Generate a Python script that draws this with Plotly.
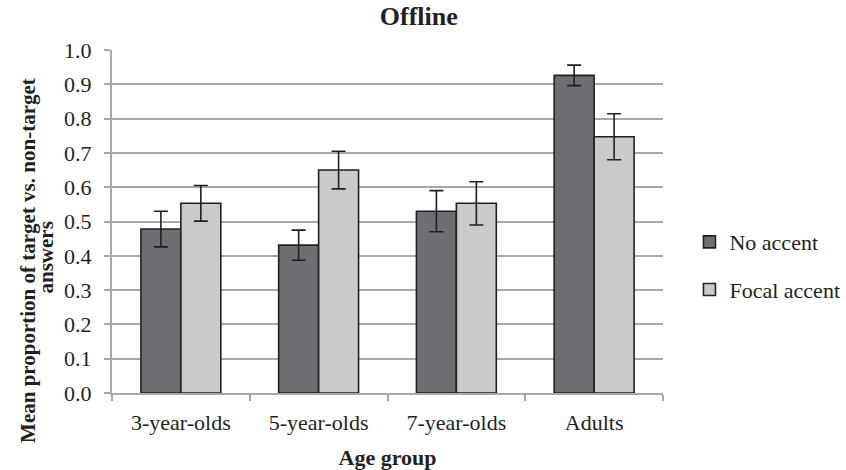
import plotly.graph_objects as go

# Age groups and mean proportions with error margins
age_groups = ["3-year-olds", "5-year-olds", "7-year-olds", "Adults"]
no_accent = [0.478, 0.431, 0.530, 0.926]
no_accent_err = [0.052, 0.044, 0.060, 0.030]
focal_accent = [0.553, 0.650, 0.553, 0.747]
focal_accent_err = [0.052, 0.055, 0.063, 0.067]
y_ticks = [0.0, 0.1, 0.2, 0.3, 0.4, 0.5, 0.6, 0.7, 0.8, 0.9, 1.0]
y_title_lines = ["Mean proportion of target vs. non-target", "answers"]

serif = "Liberation Serif, Times New Roman, serif"
grid_col = "#a8a8a8"
edge_col = "#231f20"

fig = go.Figure()
for name, vals, errs, col, grp in [
    ("No accent", no_accent, no_accent_err, "#6d6e71", "a"),
    ("Focal accent", focal_accent, focal_accent_err, "#c9cacc", "b"),
]:
    fig.add_trace(go.Bar(
        name=name, x=age_groups, y=vals, legendgroup=grp,
        marker=dict(color=col, line=dict(color=edge_col, width=1.6)),
        error_y=dict(type="data", array=errs, visible=True,
                     color=edge_col, thickness=1.6, width=7),
    ))

# Rotated y-axis title, one annotation per line
for line, xpix, ycen in zip(y_title_lines, [28, 46], [0.385, 0.395]):
    fig.add_annotation(
        text=f"<b>{line}</b>", textangle=-90,
        xref="paper", yref="paper", x=(xpix - 112) / 551, y=ycen,
        xanchor="center", yanchor="middle", showarrow=False,
        font=dict(family=serif, size=21, color="#231f20"),
    )

fig.update_layout(
    width=846, height=470,
    margin=dict(l=112, r=183, t=50, b=77, autoexpand=False),
    paper_bgcolor="white", plot_bgcolor="white",
    barmode="group", bargap=0.42, bargroupgap=0,
    font=dict(family=serif, size=22, color="#231f20"),
    title=dict(text="<b>Offline</b>", x=0.495, xanchor="center",
               y=0.985, yanchor="top", font=dict(size=26)),
    showlegend=True,
    legend=dict(x=1.048, y=0.37, xanchor="left", yanchor="middle",
                traceorder="grouped", tracegroupgap=16,
                font=dict(size=22), bgcolor="rgba(0,0,0,0)"),
    xaxis=dict(
        title=dict(text="<b>Age group</b>", font=dict(size=22), standoff=16),
        showline=True, linecolor=grid_col, linewidth=2,
        ticks="outside", tickson="boundaries", ticklen=6,
        tickcolor=grid_col, tickwidth=2, showgrid=False,
        tickfont=dict(size=22), ticklabelstandoff=9,
    ),
    yaxis=dict(
        range=[0, 1.0], tickvals=y_ticks,
        ticktext=[f"{v:.1f}" for v in y_ticks],
        showline=True, linecolor=grid_col, linewidth=2,
        ticks="outside", ticklen=6, tickcolor=grid_col, tickwidth=2,
        showgrid=True, gridcolor=grid_col, gridwidth=2,
        zeroline=False, tickfont=dict(size=22), ticklabelstandoff=8,
    ),
)

fig.write_html("out.html")
